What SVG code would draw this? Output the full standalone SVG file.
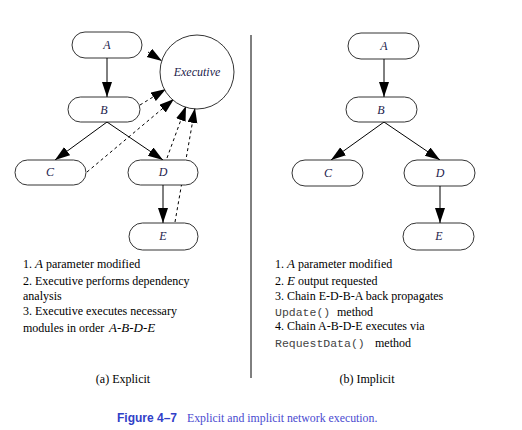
<svg xmlns="http://www.w3.org/2000/svg" width="522" height="430" viewBox="0 0 522 430">
<defs>
<marker id="ah" markerUnits="userSpaceOnUse" markerWidth="16" markerHeight="11" refX="15" refY="5" orient="auto">
<path d="M0,0 L15,5 L0,10 z" fill="#000"/>
</marker>
<style>
.node rect{fill:#fff;stroke:#000;stroke-width:0.8}
.lbl{font-family:"Liberation Serif",serif;font-style:italic;font-size:12px;fill:#1c1c4c;text-anchor:middle}
.edge{stroke:#000;stroke-width:1;fill:none;marker-end:url(#ah)}
.dash{stroke:#000;stroke-width:1;fill:none;stroke-dasharray:3 3;marker-end:url(#ah)}
.t{font-family:"Liberation Serif",serif;font-size:12px;fill:#000}
.it{font-style:italic}
.mono{font-family:"Liberation Mono",monospace;font-size:11.5px;fill:#444}
.cap{font-family:"Liberation Serif",serif;font-size:12px;fill:#000;text-anchor:middle}
</style>
</defs>
<rect width="522" height="430" fill="#fff"/>

<!-- divider -->
<line x1="251" y1="35" x2="251" y2="378" stroke="#000" stroke-width="1"/>

<!-- connectors -->
<g id="connectors">
<path class="edge" d="M107,58 L107,97"/>
<path class="edge" d="M107,122 L55,160"/>
<path class="edge" d="M107,122 L163,160"/>
<path class="edge" d="M163,185 L163,223"/>
<path class="dash" d="M148,52 L162,61"/>
<path class="dash" d="M140,105 L166,89"/>
<path class="dash" d="M87,172 L174,99"/>
<path class="dash" d="M167,158 L186,106"/>
<path class="dash" d="M175,222 L195,108"/>
<path class="edge" d="M384,59 L384,97"/>
<path class="edge" d="M384,122 L331,160"/>
<path class="edge" d="M384,122 L440,160"/>
<path class="edge" d="M440,186 L440,223"/>
</g>

<!-- left nodes -->
<g id="exec" class="node"><circle cx="197" cy="72" r="37" fill="#fff" stroke="#000" stroke-width="0.8"/><text class="lbl" x="197" y="76" font-size="12.5">Executive</text></g>
<g id="lA" class="node"><rect x="72" y="32" width="70" height="26" rx="13"/><text class="lbl" x="107" y="49">A</text></g>
<g id="lB" class="node"><rect x="68" y="97" width="72" height="25" rx="12.5"/><text class="lbl" x="104" y="114">B</text></g>
<g id="lC" class="node"><rect x="15" y="160" width="71" height="25" rx="12.5"/><text class="lbl" x="50" y="176">C</text></g>
<g id="lD" class="node"><rect x="128" y="160" width="70" height="25" rx="12.5"/><text class="lbl" x="163" y="176">D</text></g>
<g id="lE" class="node"><rect x="129" y="223" width="69" height="27" rx="13.5"/><text class="lbl" x="163" y="240">E</text></g>

<!-- right nodes -->
<g id="rA" class="node"><rect x="348" y="33" width="71" height="26" rx="13"/><text class="lbl" x="384" y="50">A</text></g>
<g id="rB" class="node"><rect x="346" y="97" width="71" height="25" rx="12.5"/><text class="lbl" x="381" y="114">B</text></g>
<g id="rC" class="node"><rect x="292" y="160" width="71" height="26" rx="13"/><text class="lbl" x="328" y="177">C</text></g>
<g id="rD" class="node"><rect x="404" y="160" width="71" height="26" rx="13"/><text class="lbl" x="440" y="177">D</text></g>
<g id="rE" class="node"><rect x="403" y="223" width="71" height="27" rx="13.5"/><text class="lbl" x="439" y="240">E</text></g>

<!-- left text -->
<g id="ltext">
<text class="t" x="23" y="268">1. <tspan class="it" font-size="13">A</tspan> parameter modified</text>
<text class="t" x="23" y="285">2. Executive performs dependency</text>
<text class="t" x="23" y="300">analysis</text>
<text class="t" x="23" y="315">3. Executive executes necessary</text>
<text class="t" x="23" y="332">modules in order  <tspan class="it" font-size="13" x="109">A-B-D-E</tspan></text>
<text class="cap" x="123" y="383">(a) Explicit</text>
</g>

<!-- right text -->
<g id="rtext">
<text class="t" x="275" y="268">1. <tspan class="it" font-size="13">A</tspan> parameter modified</text>
<text class="t" x="275" y="285">2. <tspan class="it" font-size="13">E</tspan> output requested</text>
<text class="t" x="275" y="300">3. Chain E-D-B-A back propagates</text>
<text x="275" y="316"><tspan class="mono">Update()</tspan><tspan class="t" x="337">method</tspan></text>
<text class="t" x="275" y="330">4. Chain A-B-D-E executes via</text>
<text x="275" y="347"><tspan class="mono">RequestData()</tspan><tspan class="t" x="375">method</tspan></text>
<text class="cap" x="367" y="383">(b) Implicit</text>
</g>

<!-- caption -->
<g id="caption">
<text x="117" y="422" font-family="Liberation Sans, sans-serif" font-weight="bold" font-size="12" fill="#3040c8">Figure 4–7</text>
<text x="187" y="422" font-family="Liberation Serif, serif" font-size="11.8" fill="#4a4ad0">Explicit and implicit network execution.</text>
</g>
</svg>
